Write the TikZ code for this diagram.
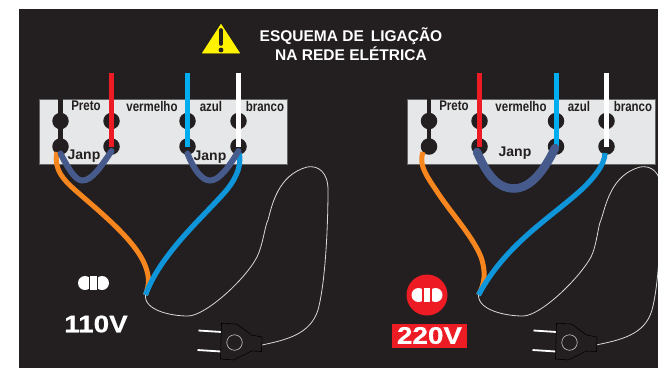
\documentclass[tikz,border=0pt]{standalone}
\usepackage{fontspec}
\setmainfont{Liberation Sans}
\newfontfamily\narrowf[FakeStretch=0.82]{Liberation Sans}
\newfontfamily\widef[FakeStretch=1.16,FakeBold=0.6]{Liberation Sans}
\definecolor{panel}{HTML}{231F20}
\definecolor{strip}{HTML}{E6E7E8}
\definecolor{wred}{HTML}{ED1C24}
\definecolor{wblue}{HTML}{00AEEF}
\definecolor{cblue}{HTML}{0F95DA}
\definecolor{worange}{HTML}{F7861E}
\definecolor{jump}{HTML}{465A8C}
\definecolor{warn}{HTML}{FFF200}
\tikzset{
  x=1pt,y=-1pt,
  stripbox/.style={fill=strip,draw=black!60,line width=.6pt,minimum width=248pt,minimum height=65pt,inner sep=0,outer sep=0,anchor=north west},
  hole/.style={circle,fill=panel,minimum size=16.5pt,inner sep=0,outer sep=0},
  lab/.style={font=\narrowf\bfseries\fontsize{14}{15}\selectfont,text=panel,inner sep=0},
  janp/.style={font=\bfseries\fontsize{14}{15}\selectfont,text=panel,inner sep=0},
  title/.style={font=\bfseries\fontsize{15.5}{17}\selectfont,text=white,inner sep=0,align=center},
  volt/.style={font=\widef\bfseries\fontsize{24}{25}\selectfont,text=white,inner sep=0},
  wirev/.style={line width=5pt},
  bwire/.style={panel,line width=4.5pt},
  orangew/.style={worange,line width=5pt},
  bluew/.style={cblue,line width=5.2pt},
  jumper/.style={jump,line width=#1,line cap=round},
  cord/.style={white!85!black,line width=.8pt},
  plugbody/.style={fill=panel,draw=black,line width=.6pt},
  prong/.style={white,line width=1.8pt},
}
\newcommand{\sock}[3]{%
  \fill[white] (#1-8.5,#2) circle[radius=7];
  \fill[white] (#1+8.5,#2) circle[radius=7];
  \fill[#3] (#1-4.9,#2-7.5) rectangle (#1+4.9,#2+7.5);
  \fill[white] (#1-3.3,#2-7) rectangle (#1+3.3,#2+7);
}
\begin{document}
\begin{tikzpicture}
\useasboundingbox (0,0) rectangle (658,368);
\clip (0,0) rectangle (658,368);
\fill[white] (0,0) rectangle (658,368);
\fill[panel] (19,9) rectangle (658,368);
% warning + title
\fill[warn,draw=warn,line width=.8pt,line join=round] (221,24.5) -- (239.5,53) -- (202.5,53) -- cycle;
\draw[panel,line width=3.6pt,line cap=round] (221,30) -- (221,44);
\fill[panel] (221,50) circle[radius=2.4];
\node[title] (t1) at (351,36) {ESQUEMA DE\, LIGAÇÃO};
\node[title] (t2) at (351,54) {NA REDE ELÉTRICA};
% strips
\node[stripbox] (sl) at (39,99) {};
\node[stripbox] (sr) at (407.5,99) {};
% holes
\foreach \n/\x in {a/60.5,b/111.5,c/187.5,d/238.5,e/429,f/479.5,g/556,h/606.5}{
  \node[hole] (\n1) at (\x,121) {};
  \node[hole] (\n2) at (\x,146.5) {};
}
% labels
\node[lab] (l1) at (86,106) {Preto};
\node[lab] (l2) at (152,106) {vermelho};
\node[lab] (l3) at (211,106) {azul};
\node[lab] (l4) at (265,106) {branco};
\node[lab] (r1) at (454,106) {Preto};
\node[lab] (r2) at (521,106) {vermelho};
\node[lab] (r3) at (579,106) {azul};
\node[lab] (r4) at (633,106) {branco};
\node[janp] (j1) at (84,156) {Janp};
\node[janp] (j2) at (210,157) {Janp};
\node[janp] (j3) at (515,153) {Janp};
% wires from strip
\foreach \n in {a,e}{\draw[bwire] (\n2.center) -- (\n1.center |- sl.north);}
\foreach \n/\c in {b/wred,c/wblue,d/white,f/wred,g/wblue,h/white}{
  \draw[\c,wirev] (\n1 |- 0,73) -- (\n2.center);
}
% supply wires
\coordinate (lj) at (145.5,295);
\coordinate (rj) at (478.5,295);
\draw[orangew] (57,152) .. controls (53,170) and (65,181) .. (75,190) .. controls (100,212) and (135,240) .. (145,265) .. controls (150,278) and (149,285) .. (lj);
\draw[bluew] (239,153) .. controls (243,168) and (232,184) .. (225,192) .. controls (200,220) and (160,255) .. (lj);
\draw[orangew] (423,152) .. controls (418,165) and (428,178) .. (436,190) .. controls (450,212) and (472,235) .. (481,257) .. controls (486,272) and (485,283) .. (rj);
\draw[bluew] (605,153) .. controls (605,165) and (592,180) .. (580,191) .. controls (550,218) and (505,245) .. (rj);
% jumpers
\draw[jumper=6pt] (a2.center) ++(0,7) .. controls (70,172) and (76,180) .. (82,180.5) .. controls (92,181) and (102,165) .. (111.5,151);
\draw[jumper=6pt] (c2.center) ++(0,7) .. controls (194,170) and (202,180.5) .. (210,180.5) .. controls (220,180.5) and (230,165) .. (238.5,151);
\draw[jumper=8.5pt] (477,152) .. controls (486,172) and (496,188.5) .. (514,188.5) .. controls (532,188.5) and (546,167) .. (555,148);
% cords
\draw[cord] (lj) .. controls (144,310) and (170,316) .. (188,316) .. controls (205,316) and (245,280) .. (257,257) .. controls (263,245) and (265,225) .. (268,220) .. controls (272,205) and (278,175) .. (307,167) .. controls (318,165) and (328,172) .. (328,190) .. controls (328,220) and (326,280) .. (318,310) .. controls (310,335) and (285,340) .. (262,345);
\draw[cord] (rj) .. controls (478,310) and (505,316) .. (523,316) .. controls (540,316) and (578,280) .. (591,257) .. controls (597,245) and (598,225) .. (601,220) .. controls (606,205) and (611,175) .. (640,167) .. controls (651,165) and (661,172) .. (661,190) .. controls (661,220) and (660,280) .. (652,310) .. controls (645,335) and (620,340) .. (596,345);
% plugs
\foreach \d/\n in {0/pl,335/pr}{
  \begin{scope}[xshift=\d pt]
    \draw[prong] (198.5,330.5) -- (221.5,332);
    \draw[prong] (197.5,350) -- (221,351.5);
    \path[plugbody,draw] (221.5,323.5) -- (236.5,324) -- (251.5,335) -- (262,337) -- (261.5,351.5) -- (251.5,351) -- (233.5,360) -- (220.5,359) -- cycle;
    \node[circle,draw=white!80!black,line width=.6pt,minimum size=15.5pt,inner sep=0] (\n) at (234.5,342.5) {};
  \end{scope}
}
% voltage marks
\sock{93.5}{283}{panel}
\node[volt] (v1) at (96,324) {110V};
\node[circle,fill=wred,minimum size=41pt,inner sep=0] (rc) at (427,295) {};
\sock{427}{295}{wred}
\node[fill=wred,minimum width=75pt,minimum height=24pt,inner sep=0,font=\widef\bfseries\fontsize{24}{25}\selectfont,text=white] (v2) at (429.5,335.5) {220V};
\end{tikzpicture}
\end{document}
